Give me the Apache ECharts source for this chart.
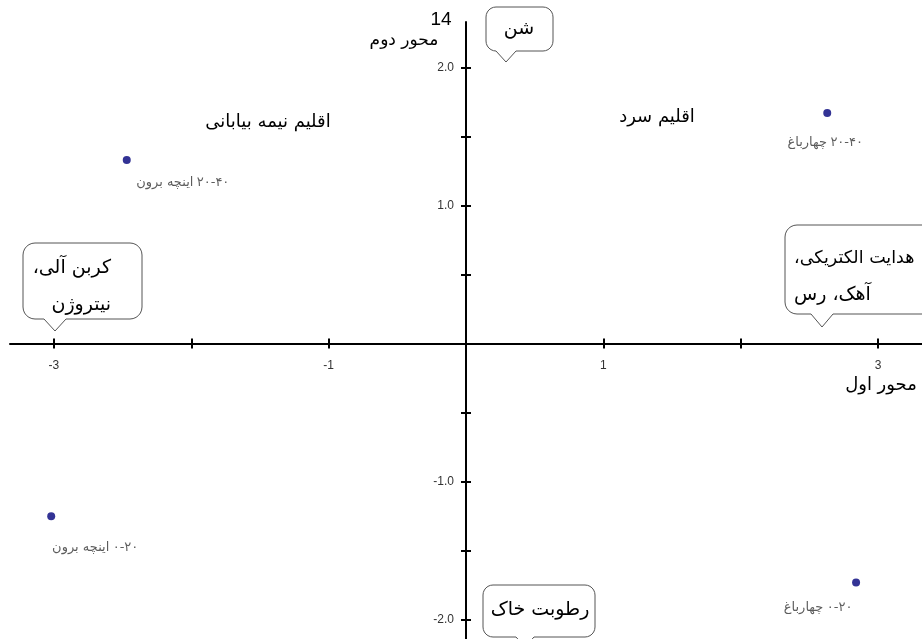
<!DOCTYPE html>
<html>
<head>
<meta charset="utf-8">
<script src="https://cdn.jsdelivr.net/npm/echarts@6/dist/echarts.min.js"></script>
<style>
  html, body { margin: 0; padding: 0; background: #fff; }
  #chart { width: 922px; height: 639px; }
</style>
</head>
<body>
<div id="chart"></div>
<script>
/* biplot of the first two axes, sites × soil depth */
const siteNames = ["چهارباغ", "اینچه برون", "اینچه برون", "چهارباغ"];
const depths    = ["۲۰-۴۰", "۲۰-۴۰", "۰-۲۰", "۰-۲۰"];
const axis1     = [2.63, -2.47, -3.02, 2.84];
const axis2     = [1.67, 1.33, -1.25, -1.73];

const xTicks      = [-3, -2, -1, 0, 1, 2, 3];
const xTickLabels = [-3, -1, 1, 3];
const yTicks      = [-2, -1.5, -1, -0.5, 0.5, 1, 1.5, 2];
const yTickLabels = [-2, -1, 1, 2];

const axisNames   = ["محور اول", "محور دوم"];
const zoneLabels  = ["اقلیم نیمه بیابانی", "اقلیم سرد"];
const calloutText = [["شن"], ["کربن آلی،\u200F", "نیتروژن"], ["هدایت الکتریکی،\u200F", "آهک، رس"], ["رطوبت خاک"]];

(function () {
  "use strict";

  const FA = '"DejaVu Sans", sans-serif';
  const NUM = '"Liberation Sans", Arial, sans-serif';
  const INK = "#000";
  const LBL = "#333";

  const W = 922, H = 639;
  const GRID = { left: 10, right: 0, top: 22, bottom: 0 };
  const X_MIN = -3.32, X_MAX = 3.32, Y_MIN = -2.14, Y_MAX = 2.33;

  // axes cross at the origin: shift them in from the grid edges
  const gw = W - GRID.left - GRID.right, gh = H - GRID.top - GRID.bottom;
  const x0 = GRID.left + gw * (0 - X_MIN) / (X_MAX - X_MIN);
  const y0 = GRID.top + gh * (Y_MAX - 0) / (Y_MAX - Y_MIN);
  const OFF = {
    bottom: -(H - GRID.bottom - y0),
    top: -(y0 - GRID.top),
    left: -(x0 - GRID.left),
    right: -(W - GRID.right - x0),
  };

  // label nudges per point [dx, distance below]
  const NUDGE = [[-2, 19], [56, 12], [44, 21], [-38, 15]];

  const tickBase = { show: true, inside: false, length: 5, lineStyle: { color: INK, width: 2 } };

  function xAx(pos, withLine) {
    return {
      type: "value", position: pos, offset: OFF[pos], min: X_MIN, max: X_MAX,
      axisLine: { show: withLine, onZero: false, lineStyle: { color: INK, width: 2 } },
      axisTick: { ...tickBase, customValues: xTicks },
      axisLabel: withLine
        ? { show: true, customValues: xTickLabels, margin: 16, color: LBL, fontFamily: NUM, fontSize: 12 }
        : { show: false },
      splitLine: { show: false },
    };
  }
  function yAx(pos, withLine) {
    return {
      type: "value", position: pos, offset: OFF[pos], min: Y_MIN, max: Y_MAX,
      axisLine: { show: withLine, onZero: false, lineStyle: { color: INK, width: 2 } },
      axisTick: { ...tickBase, customValues: yTicks },
      axisLabel: withLine
        ? { show: true, customValues: yTickLabels, margin: 12, color: LBL, fontFamily: NUM, fontSize: 12,
            formatter: (v) => Number(v).toFixed(1) }
        : { show: false },
      splitLine: { show: false },
    };
  }

  function bubble(x, y, w, h, r, tipX, tipW, tipH) {
    const pts = [];
    const arc = (cx, cy, a0) => {
      for (let i = 0; i <= 6; i++) {
        const a = a0 + (i * Math.PI) / 12;
        pts.push([cx + r * Math.cos(a), cy + r * Math.sin(a)]);
      }
    };
    arc(x + r, y + r, Math.PI);
    arc(x + w - r, y + r, 1.5 * Math.PI);
    arc(x + w - r, y + h - r, 0);
    pts.push([tipX + tipW / 2, y + h], [tipX, y + h + tipH], [tipX - tipW / 2, y + h]);
    arc(x + r, y + h - r, Math.PI / 2);
    return {
      type: "polygon", z: 100, shape: { points: pts },
      style: { fill: "#fff", stroke: "#555", lineWidth: 1 },
    };
  }

  function txt(x, y, text, size, align, family) {
    return {
      type: "text", z: 101, x, y,
      style: { text, fill: INK, font: size + "px " + (family || FA), align: align || "center", verticalAlign: "middle" },
    };
  }

  const graphic = [
    bubble(486, 7, 67, 44, 10, 506, 20, 11),
    txt(519, 29, calloutText[0][0], 19),
    bubble(23, 243, 119, 76, 12, 55, 22, 12),
    txt(111, 268, calloutText[1][0], 19, "right"),
    txt(111, 305, calloutText[1][1], 19, "right"),
    bubble(785, 225, 160, 89, 12, 822, 22, 13),
    txt(794, 258, calloutText[2][0], 17.5, "left"),
    txt(794, 295, calloutText[2][1], 19, "left"),
    bubble(483, 585, 112, 52, 10, 525, 18, 10),
    txt(540, 610, calloutText[3][0], 19),
    txt(268, 122, zoneLabels[0], 18),
    txt(657, 117, zoneLabels[1], 18),
    txt(881, 385, axisNames[0], 18),
    txt(404, 41, axisNames[1], 17),
    txt(441, 20, "14", 19, "center", NUM),
  ];

  const chart = echarts.init(document.getElementById("chart"), null, { renderer: "canvas" });
  chart.setOption({
    animation: false,
    backgroundColor: "#fff",
    grid: { ...GRID, containLabel: false, outerBoundsMode: "none" },
    xAxis: [xAx("bottom", true), xAx("top", false)],
    yAxis: [yAx("left", true), yAx("right", false)],
    series: [{
      type: "scatter",
      xAxisIndex: 0, yAxisIndex: 0,
      symbolSize: 8,
      itemStyle: { color: "#00007a" },
      data: axis1.map((v, i) => ({
        value: [v, axis2[i]],
        name: siteNames[i],
        label: { offset: [NUDGE[i][0], 0], distance: NUDGE[i][1] },
      })),
      label: {
        show: true, position: "bottom",
        formatter: (p) => "{n|" + p.name + "} {d|" + depths[p.dataIndex] + "}",
        rich: {
          n: { fontFamily: FA, fontSize: 13, color: LBL },
          d: { fontFamily: FA, fontSize: 13, color: LBL },
        },
      },
    }],
    graphic,
  });
})();
</script>
</body>
</html>
